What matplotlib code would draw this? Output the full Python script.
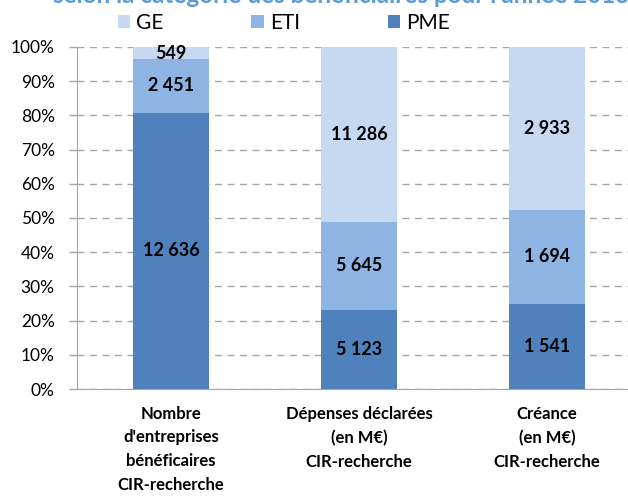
import matplotlib.pyplot as plt
import numpy as np

categories = ["Nombre\nd'entreprises\nbénéficaires\nCIR-recherche",
              "Dépenses déclarées\n(en M€)\nCIR-recherche",
              "Créance\n(en M€)\nCIR-recherche"]
pme = [12636, 5123, 1541]
eti = [2451, 5645, 1694]
ge = [549, 11286, 2933]

plt.rcParams['font.family'] = ['Lato', 'DejaVu Sans']

def fmt(v):
    return "{:,}".format(v).replace(",", " ")

pme_a, eti_a, ge_a = np.array(pme), np.array(eti), np.array(ge)
tot = pme_a + eti_a + ge_a
p_pme = pme_a / tot * 100
p_eti = eti_a / tot * 100
p_ge = ge_a / tot * 100

fig = plt.figure(figsize=(6.28, 5.01), dpi=100)
ax = fig.add_axes([77/628, 1-389/501, 564/628, 342/501])
x = np.arange(len(categories))
w = 0.4
b1 = ax.bar(x, p_pme, w, color="#4F81BD", label="PME", zorder=3)
b2 = ax.bar(x, p_eti, w, bottom=p_pme, color="#8EB4E3", label="ETI", zorder=3)
b3 = ax.bar(x, p_ge, w, bottom=p_pme+p_eti, color="#C6D9F1", label="GE", zorder=3)

for i in range(len(x)):
    ax.text(x[i], p_pme[i]/2, fmt(pme[i]), ha="center", va="center", fontsize=13, fontweight="bold", zorder=4)
    ax.text(x[i], p_pme[i]+p_eti[i]/2, fmt(eti[i]), ha="center", va="center", fontsize=13, fontweight="bold", zorder=4)
    ax.text(x[i], p_pme[i]+p_eti[i]+p_ge[i]/2, fmt(ge[i]), ha="center", va="center", fontsize=13, fontweight="bold", zorder=4)

ax.set_xlim(-0.5, 2.5)
ax.set_ylim(0, 100)
ax.set_yticks(np.arange(0, 101, 10))
ax.set_yticklabels([f"{v}%" for v in range(0, 101, 10)], fontsize=12.5)
ax.yaxis.grid(True, linestyle=(0, (5, 4)), color="#A6A6A6", linewidth=1, zorder=0)
ax.set_xticks(x)
ax.set_xticklabels(categories, fontsize=12, fontweight="bold", linespacing=1.6, va="top")
ax.tick_params(axis="x", length=0, pad=12)
ax.tick_params(axis="y", length=6, color="#A6A6A6", width=1, pad=10)
for s in ["top", "right"]:
    ax.spines[s].set_visible(False)
ax.spines["left"].set_color("#A6A6A6")
ax.spines["bottom"].set_color("#A6A6A6")

fig.legend(handles=[b3, b2, b1], labels=["GE", "ETI", "PME"], loc="center",
           bbox_to_anchor=(0.452, 1-23/501), ncol=3, frameon=False, fontsize=15,
           handlelength=0.6, handleheight=0.6, handletextpad=0.3, columnspacing=4.2)

fig.text(53/628, 1-3/501, "selon la catégorie des bénéficiaires pour l'année 2013",
         color="#5B9BD5", fontsize=17.5, fontweight="bold", va="baseline")

fig.savefig("out.png", dpi=100)
